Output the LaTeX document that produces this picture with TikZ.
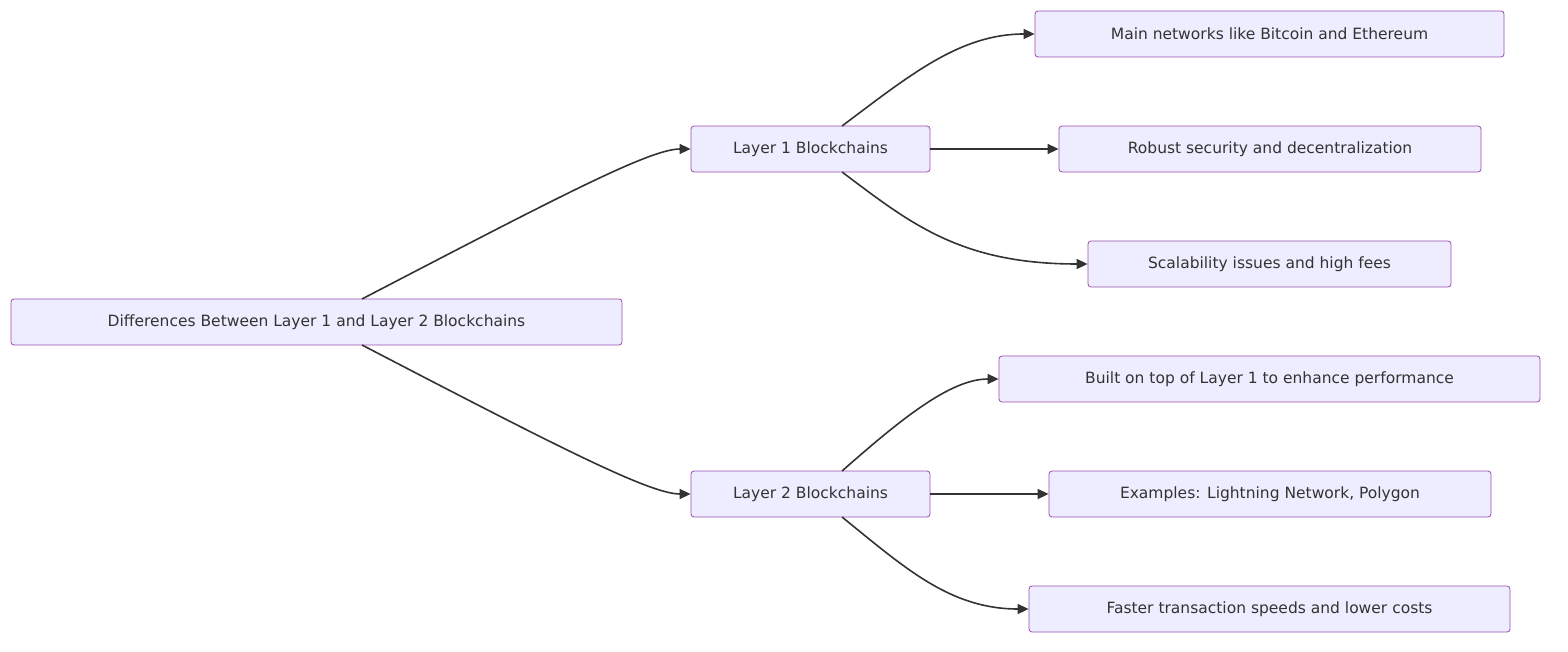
\documentclass[tikz,border=0pt]{standalone}
\usepackage{fontspec}
\setmainfont{DejaVu Sans}
\usetikzlibrary{arrows.meta}
\begin{document}
\begin{tikzpicture}[x=1pt,y=-1pt,
  box/.style={draw=purple!60!blue!70, fill=blue!7, rounded corners=3pt, line width=0.8pt, minimum height=46pt, inner sep=0pt, font=\fontsize{15.5}{18}\selectfont, text=black!80},
  ar/.style={draw=black!80, line width=1.6pt, -{Triangle[length=11pt,width=10pt]}}]
\useasboundingbox (0,0) rectangle (1568,652);
\node[box, minimum width=611pt] (r) at (316.5,322) {Differences Between Layer 1 and Layer 2 Blockchains};
\node[box, minimum width=239pt] (a) at (810.5,149) {Layer 1 Blockchains};
\node[box, minimum width=239pt] (b) at (810.5,494) {Layer 2 Blockchains};
\node[box, minimum width=469pt] (a1) at (1269.5,34) {Main networks like Bitcoin and Ethereum};
\node[box, minimum width=422pt] (a2) at (1270,149) {Robust security and decentralization};
\node[box, minimum width=363pt] (a3) at (1269.5,264) {Scalability issues and high fees};
\node[box, minimum width=541pt] (b1) at (1269.5,379) {Built on top of Layer 1 to enhance performance};
\node[box, minimum width=442pt] (b2) at (1270,494) {Examples: Lightning Network, Polygon};
\node[box, minimum width=481pt] (b3) at (1269.5,609) {Faster transaction speeds and lower costs};
\coordinate (rt) at (362,299); \coordinate (rb) at (362,345);
\coordinate (at) at (842,126); \coordinate (ab) at (842,172);
\coordinate (bt) at (842,471); \coordinate (bb) at (842,517);
\draw[ar] (rt) .. controls (560,196) and (650,149) .. (a.west);
\draw[ar] (rb) .. controls (560,448) and (650,494) .. (b.west);
\draw[ar] (at) .. controls (910,75) and (960,34) .. (a1.west);
\draw[ar] (a.east) -- (a2.west);
\draw[ar] (ab) .. controls (910,223) and (960,264) .. (a3.west);
\draw[ar] (bt) .. controls (900,420) and (950,379) .. (b1.west);
\draw[ar] (b.east) -- (b2.west);
\draw[ar] (bb) .. controls (905,568) and (950,609) .. (b3.west);
\end{tikzpicture}
\end{document}
